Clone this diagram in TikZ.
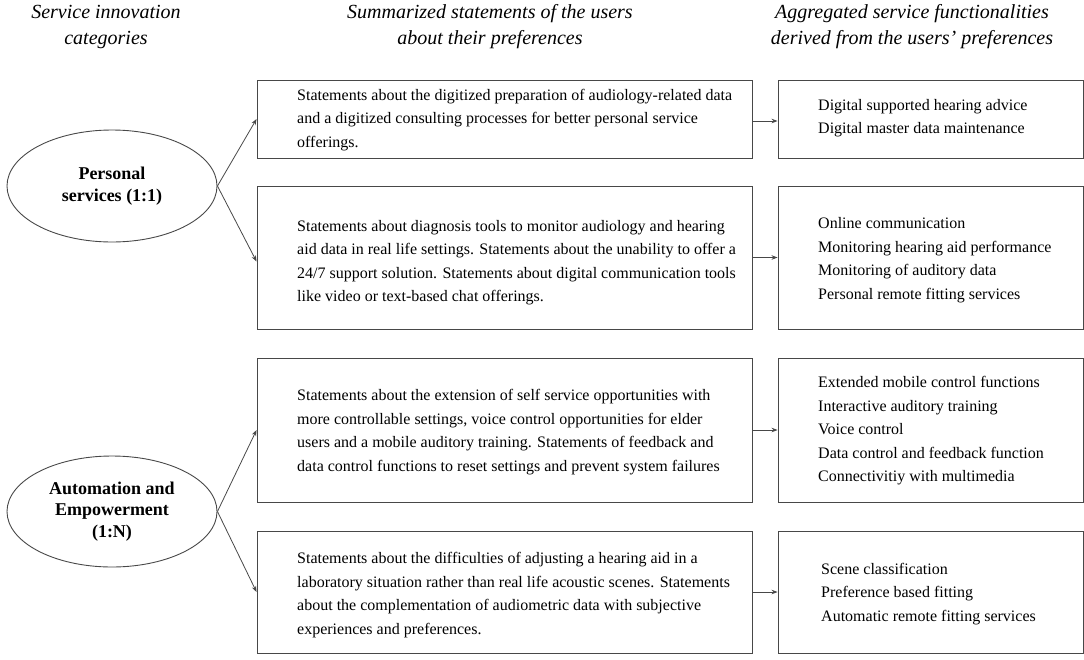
\documentclass[tikz,border=0pt]{standalone}
\usepackage{fontspec}
\setmainfont{Liberation Serif}
\usetikzlibrary{arrows.meta,shapes.geometric}
\definecolor{linegray}{HTML}{484848}
\begin{document}
\begin{tikzpicture}[x=1pt,y=-1pt,
  box/.style={draw=linegray, line width=0.9pt, rectangle, inner sep=0pt},
  midbox/.style={box, minimum width=495pt},
  rightbox/.style={box, minimum width=305pt},
  cat/.style={draw=linegray, line width=0.9pt, ellipse, minimum width=210pt, minimum height=112pt, inner sep=0pt,
    align=center, font=\bfseries\fontsize{18}{21.5}\selectfont},
  body/.style={anchor=west, align=left, inner sep=0pt, font=\fontsize{16}{23.5}\selectfont},
  head/.style={align=center, inner sep=0pt, font=\itshape\fontsize{20}{26}\selectfont},
  arr/.style={draw=linegray, line width=0.8pt, -{Stealth[length=6pt,width=4.5pt]}}
]
\useasboundingbox (0,0) rectangle (1084,659);

% headers
\node[head] (h1) at (106,27) {Service innovation\\categories};
\node[head] (h2) at (490,27) {Summarized statements of the users\\about their preferences};
\node[head] (h3) at (912,27) {Aggregated service functionalities\\derived from the users' preferences};

% category ellipses
\node[cat] (e1) at (112,186) {Personal\\services (1:1)};
\node[cat, minimum height=111pt] (e2) at (112,511.5) {Automation and\\Empowerment\\(1:N)};

% middle boxes
\node[midbox, minimum height=78pt] (m1) at (504.5,119) {};
\node[midbox, minimum height=143pt] (m2) at (504.5,257.5) {};
\node[midbox, minimum height=144pt] (m3) at (504.5,430) {};
\node[midbox, minimum height=122pt] (m4) at (504.5,592) {};

% right boxes
\node[rightbox, minimum height=78pt] (r1) at (930.5,119) {};
\node[rightbox, minimum height=143pt] (r2) at (930.5,257.5) {};
\node[rightbox, minimum height=144pt] (r3) at (930.5,430) {};
\node[rightbox, minimum height=122pt] (r4) at (930.5,592) {};

% middle texts
\node[body] (m1t) at (297,120) {Statements about the digitized preparation of audiology-related data\\and a digitized consulting processes for better personal service\\offerings.};
\node[body] (m2t) at (297,262.5) {Statements about diagnosis tools to monitor audiology and hearing\\aid data in real life settings. Statements about the unability to offer a\\24/7 support solution. Statements about digital communication tools\\like video or text-based chat offerings.};
\node[body] (m3t) at (297,432) {Statements about the extension of self service opportunities with\\more controllable settings, voice control opportunities for elder\\users and a mobile auditory training. Statements of feedback and\\data control functions to reset settings and prevent system failures};
\node[body] (m4t) at (297,595) {Statements about the difficulties of adjusting a hearing aid in a\\laboratory situation rather than real life acoustic scenes. Statements\\about the complementation of audiometric data with subjective\\experiences and preferences.};

% right texts
\node[body] (r1t) at (818,118) {Digital supported hearing advice\\Digital master data maintenance};
\node[body] (r2t) at (818,260) {Online communication\\Monitoring hearing aid performance\\Monitoring of auditory data\\Personal remote fitting services};
\node[body] (r3t) at (818,431) {Extended mobile control functions\\Interactive auditory training\\Voice control\\Data control and feedback function\\Connectivitiy with multimedia};
\node[body] (r4t) at (821,594) {Scene classification\\Preference based fitting\\Automatic remote fitting services};

% connectors
\draw[arr] (e1.east) -- (m1.west);
\draw[arr] (e1.east) -- ([yshift=-4pt]m2.west);
\draw[arr] (e2.east) -- (m3.west);
\draw[arr] (e2.east) -- (m4.west);
\draw[arr] ([yshift=-2pt]m1.east) -- ([yshift=-2pt]r1.west);
\draw[arr] (m2.east) -- (r2.west);
\draw[arr] (m3.east) -- (r3.west);
\draw[arr] (m4.east) -- (r4.west);
\end{tikzpicture}
\end{document}
